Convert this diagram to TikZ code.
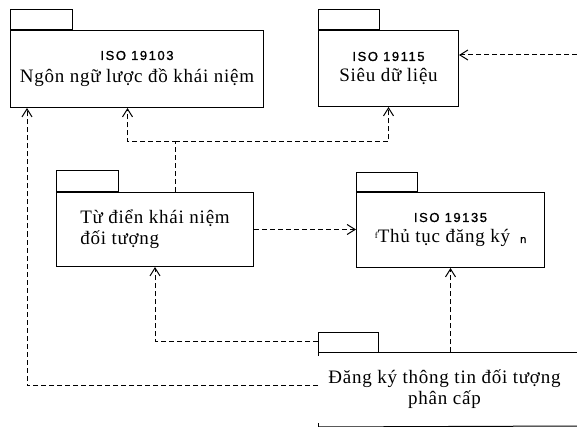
\documentclass[tikz,border=0pt]{standalone}
\usepackage{fontspec}
\setmainfont{Liberation Serif}[LetterSpace=4]
\newfontfamily\isofont[LetterSpace=12,FakeBold=1.2]{Liberation Sans}
\usetikzlibrary{arrows.meta}
\tikzset{
  pkg/.style={draw, line width=1pt, rectangle, inner sep=0pt, anchor=north west,
    align=center, font=\fontsize{19}{21}\selectfont},
  tabbox/.style={draw, line width=1pt},
  link/.style={line width=1pt, dash pattern=on 5pt off 3pt},
  dep/.style={link, -{Straight Barb[length=8pt,width=10pt,line width=1pt]}}
}
\newcommand{\isolabel}[1]{{\isofont\fontsize{13}{15}\selectfont #1}}
\begin{document}
\begin{tikzpicture}[x=1pt,y=-1pt]
\useasboundingbox (0,0) rectangle (577,427);
% packages
\node[pkg, minimum width=253pt, minimum height=77pt] (b1) at (10,30)
  {\isolabel{ISO 19103}\\[2pt] Ngôn ngữ lược đồ khái niệm};
\draw[tabbox] (b1.north west) rectangle ++(62,-20);
\node[pkg, minimum width=140pt, minimum height=76pt] (b2) at (318,30)
  {\isolabel{ISO 19115}\\[0pt] Siêu dữ liệu};
\draw[tabbox] (b2.north west) rectangle ++(61,-20);
\node[pkg, minimum width=197pt, minimum height=74pt, align=left] (b3) at (56,192)
  {Từ điển khái niệm\\ đối tượng};
\draw[tabbox] (b3.north west) rectangle ++(62,-21);
\node[pkg, minimum width=188pt, minimum height=75pt] (b4) at (356,192)
  {\isolabel{ISO 19135}\\[0pt] {\fontsize{9}{9}\selectfont\raisebox{4pt}{f}}Thủ tục đăng ký\hspace{10pt}{\isofont\fontsize{11}{11}\selectfont n}};
\draw[tabbox] (b4.north west) rectangle ++(61,-19);
\node[pkg, draw=none, minimum width=252pt, minimum height=74pt] (b5) at (318,352)
  {Đăng ký thông tin đối tượng\\ phân cấp};
\draw[tabbox] (b5.north west) rectangle ++(60,-20);
\coordinate (r5t) at (577,352);
\coordinate (r5b) at (577,426);
\draw[line width=1pt] (b5.north west) -- (r5t);
\draw[line width=1pt] (b5.south west) -- (r5b);
\draw[line width=0.6pt] (b5.north west) -- ++(0,4);
\draw[line width=0.6pt] (b5.south west) -- ++(0,-4);
% connectors
\coordinate (j) at (175,142);
\draw[dep] (j |- b3.north) -- (j) -| ([xshift=-9.5pt]b1.south);
\draw[dep] (j) -| (b2.south);
\draw[dep] (b3.east) -- (b3.east -| b4.west);
\draw[dep] ([yshift=11pt]b5.north west) -| (b3.south);
\draw[dep] ([yshift=4pt]b5.west) -| ([xshift=17pt]b1.south west);
\draw[dep] (b5.north -| b4.south) -- (b4.south);
\coordinate (e) at (577,55);
\draw[dep] (e) -- (e -| b2.east);
\end{tikzpicture}
\end{document}
